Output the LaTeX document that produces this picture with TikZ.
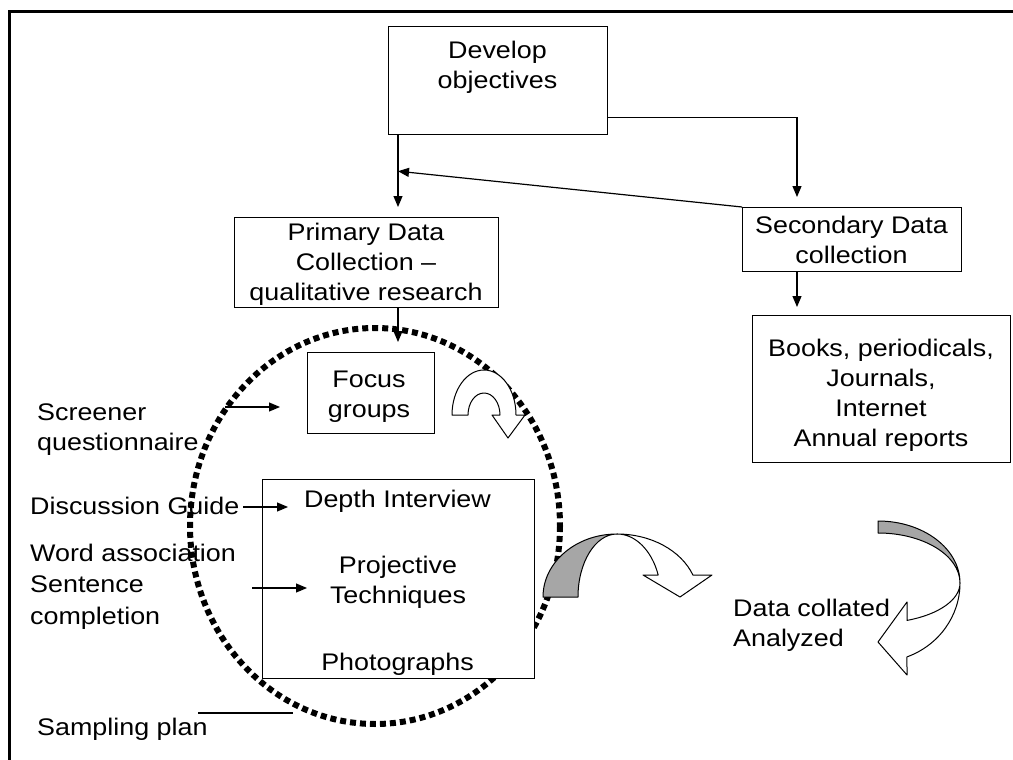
\documentclass[tikz,border=0pt]{standalone}
\usepackage{fontspec}
\setmainfont{Liberation Sans}[FakeStretch=1.12]
\usetikzlibrary{arrows.meta,calc}
\definecolor{shade}{RGB}{166,166,166}
\begin{document}
\begin{tikzpicture}[x=1pt,y=-1pt,
  txt/.style={font=\fontsize{24}{30}\selectfont, inner sep=0pt},
  box/.style={draw, line width=1.2pt, fill=white, inner sep=0pt, anchor=north west},
  arr/.style={line width=1.2pt, -{Triangle[length=11pt,width=9pt]}},
  link/.style={line width=1.2pt},
  band/.style={draw, line width=1pt, line join=round}
]
\useasboundingbox (0,0) rectangle (1013,760);
\clip (0,0) rectangle (1013,760);

% page frame
\draw[line width=3pt] (9.5,780) -- (9.5,11.5) -- (1030,11.5);

% dotted ring around the qualitative methods
\draw[line width=6pt, dash pattern=on 6pt off 4pt] (375,526) ellipse [x radius=185, y radius=198];

% boxes
\node[box, minimum width=219pt, minimum height=108pt] (dev)   at (388,26)  {};
\node[box, minimum width=264pt, minimum height=90pt]  (prim)  at (234,217) {};
\node[box, minimum width=219pt, minimum height=64pt]  (sec)   at (742,207) {};
\node[box, minimum width=127pt, minimum height=81pt]  (foc)   at (307,352) {};
\node[box, minimum width=258pt, minimum height=147pt] (books) at (752,315) {};
\node[box, minimum width=272pt, minimum height=199pt] (depth) at (262,479) {};

% box texts
\node[txt, align=center, anchor=north] (devT)   at (497.5,37) {\strut Develop\\objectives};
\node[txt, align=center, anchor=north] (primT)  at (366,219)  {\strut Primary Data\\Collection –\\qualitative research};
\node[txt, align=center, anchor=north] (secT)   at (851.5,212) {\strut Secondary Data\\collection};
\node[txt, align=center, anchor=north] (focT)   at (369,366)  {\strut Focus\\groups};
\node[txt, align=center, anchor=north] (booksT) at (881,335)  {\strut Books, periodicals,\\Journals,\\Internet\\Annual reports};
\node[txt, anchor=base] (depthT) at (397.5,507) {Depth Interview};
\node[txt, align=center, anchor=north] (projT) at (398,552) {\strut Projective\\Techniques};
\node[txt, anchor=base] (photoT) at (397.5,670) {Photographs};

% side labels
\node[txt, align=left, anchor=north west] (scr)  at (37,399)  {\strut Screener\\questionnaire};
\node[txt, anchor=base west]              (disc) at (30,514)  {Discussion Guide};
\node[txt, font=\fontsize{24}{31.5}\selectfont, align=left, anchor=north west] (word) at (30,539)
  {\strut Word association\\Sentence\\completion};
\node[txt, anchor=base west]              (samp) at (37,735)  {Sampling plan};
\node[txt, align=left, anchor=north west] (data) at (733,595) {\strut Data collated\\Analyzed};

% flow connectors
\coordinate (join) at ($(dev.south west)+(10,36)$);
\draw[arr] ([xshift=10pt]dev.south west) -- ([xshift=164pt,yshift=10pt]prim.north west);
\draw[arr] ([yshift=-37pt]dev.east) -| ([xshift=55pt,yshift=10pt]sec.north west);
\draw[arr] (sec.north west) -- (join);
\draw[arr] ([xshift=164pt]prim.south west) -- ([xshift=91pt,yshift=10pt]foc.north west);
\draw[arr] ([xshift=55pt]sec.south west) -- ([xshift=45pt,yshift=8pt]books.north west);

% inputs on the left
\coordinate (scrTip)  at ($(foc.north west)+(-27,55)$);
\coordinate (discTip) at ($(depth.north west)+(26,28)$);
\coordinate (wordTip) at ($(depth.north west)+(45,109)$);
\coordinate (sampEnd) at (293,713);
\draw[arr]  ($(scrTip)+(-55,0)$)  -- (scrTip);
\draw[arr]  ($(discTip)+(-45,0)$) -- (discTip);
\draw[arr]  ($(wordTip)+(-55,0)$) -- (wordTip);
\draw[link] ($(sampEnd)+(-95,0)$) -- (sampEnd);

% U-turn arrow beside the focus groups
\draw[band, fill=white] (452,415) arc[start angle=180, end angle=360, x radius=32, y radius=45]
  -- (525,415) -- (508,438) -- (492,415) -- (500,415)
  arc[start angle=0, end angle=-180, x radius=16, y radius=22] -- cycle;

% curved arrow towards the analysis
\draw[band, fill=white] (617,534) arc[start angle=270, end angle=339.6, x radius=81, y radius=63]
  -- (712,575) -- (680,597) -- (643,575) -- (658.2,575)
  arc[start angle=339.6, end angle=270, x radius=44, y radius=63] -- cycle;
\draw[band, fill=shade] (543,597) arc[start angle=180, end angle=270, x radius=74, y radius=63]
  arc[start angle=270, end angle=180, x radius=39, y radius=63] -- cycle;

% curved arrow from the secondary sources
\draw[band, fill=white] (960,583) arc[start angle=0, end angle=69.3, x radius=82, y radius=79]
  -- (907,675) -- (878,642) -- (907,602) -- (907,620.4)
  arc[start angle=69.3, end angle=0, x radius=82, y radius=40] -- cycle;
\draw[band, fill=shade] (878,521) arc[start angle=270, end angle=360, x radius=82, y radius=62]
  arc[start angle=0, end angle=-90, x radius=82, y radius=50] -- cycle;
\end{tikzpicture}
\end{document}
